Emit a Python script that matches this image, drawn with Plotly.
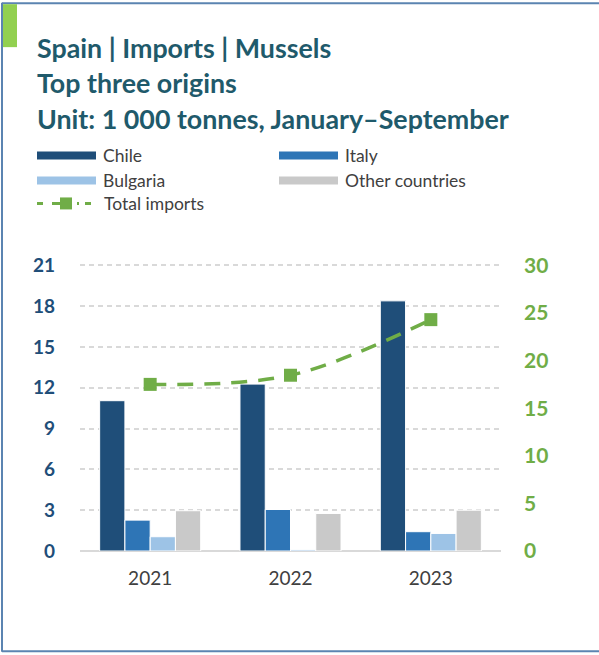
import plotly.graph_objects as go

years = ["2021", "2022", "2023"]
chile = [11.05, 12.27, 18.39]
italy = [2.27, 3.05, 1.42]
bulgaria = [1.05, 0.1, 1.29]
other = [2.96, 2.76, 3.0]
total = [17.5, 18.46, 24.3]

series_names = ["Chile", "Italy", "Bulgaria", "Other countries"]
series_values = [chile, italy, bulgaria, other]
series_colors = ["#1F4E79", "#2E75B6", "#9DC3E6", "#C9C9C9"]
line_color = "#70AD47"
title_color = "#1F5A6B"
text_color = "#404040"
FONT = "Lato"

# plot area in pixels (value 21 sits at y=265, 0 at y=551)
W, H = 599, 655
YMAX = 21.1
L, R, B = 80, 501, 551
T = B - (B - 265) * YMAX / 21


def px(x):
    return (x - L) / (R - L)


def py(y):
    return (B - y) / (B - T)


fig = go.Figure()
for name, vals, col in zip(series_names, series_values, series_colors):
    fig.add_trace(go.Bar(x=years, y=vals, name=name, marker=dict(color=col, line=dict(color="white", width=1)),
                         showlegend=False))

fig.add_trace(go.Scatter(x=years, y=total, name="Total imports", yaxis="y2", mode="lines+markers",
                         line=dict(color=line_color, width=3.5, dash="16px,11px", shape="spline", smoothing=1),
                         marker=dict(symbol="square", size=13, color=line_color),
                         showlegend=False))

shapes = []
annotations = []

# frame
border = "#5B84B1"
shapes.append(dict(type="line", xref="paper", yref="paper", x0=px(2), x1=px(2), y0=py(2), y1=py(652),
                   line=dict(color=border, width=2)))
shapes.append(dict(type="line", xref="paper", yref="paper", x0=px(2), x1=px(599), y0=py(2.5), y1=py(2.5),
                   line=dict(color=border, width=2)))
shapes.append(dict(type="line", xref="paper", yref="paper", x0=px(2), x1=px(599), y0=py(651.5), y1=py(651.5),
                   line=dict(color=border, width=2)))
# green accent
shapes.append(dict(type="rect", xref="paper", yref="paper", x0=px(3), x1=px(17), y0=py(3.5), y1=py(46.5),
                   fillcolor="#92D050", line=dict(width=0)))

# title lines
titles = ["Spain | Imports | Mussels", "Top three origins", "Unit: 1 000 tonnes, January\u2013September"]
title_y = [47, 82, 118]
for t, yy in zip(titles, title_y):
    annotations.append(dict(text="<b>" + t + "</b>", xref="paper", yref="paper", x=px(35), y=py(yy),
                            xanchor="left", yanchor="middle", showarrow=False,
                            font=dict(family=FONT, size=26.8, color=title_color)))

# legend
leg = [("Chile", series_colors[0], 37, 155), ("Italy", series_colors[1], 279, 155),
       ("Bulgaria", series_colors[2], 37, 180), ("Other countries", series_colors[3], 279, 180)]
for name, col, x0, yc in leg:
    shapes.append(dict(type="rect", xref="paper", yref="paper", x0=px(x0), x1=px(x0 + 59),
                       y0=py(yc - 4), y1=py(yc + 4), fillcolor=col, line=dict(width=0)))
    annotations.append(dict(text=name, xref="paper", yref="paper", x=px(x0 + 64), y=py(yc),
                            xanchor="left", yanchor="middle", showarrow=False,
                            font=dict(family=FONT, size=17.5, color=text_color)))
yc = 203
shapes.append(dict(type="line", xref="paper", yref="paper", x0=px(37), x1=px(96), y0=py(yc), y1=py(yc),
                   line=dict(color=line_color, width=3, dash="6px,9px,16px,9px,2px,6px")))
shapes.append(dict(type="rect", xref="paper", yref="paper", x0=px(60), x1=px(72), y0=py(yc - 6), y1=py(yc + 6),
                   fillcolor=line_color, line=dict(width=0)))
annotations.append(dict(text="Total imports", xref="paper", yref="paper", x=px(102), y=py(yc),
                        xanchor="left", yanchor="middle", showarrow=False,
                        font=dict(family=FONT, size=17.5, color=text_color)))

fig.update_layout(
    width=W, height=H,
    margin=dict(l=L, r=W - R, t=T, b=H - B, autoexpand=False),
    paper_bgcolor="white", plot_bgcolor="white",
    barmode="group", bargap=0.28, bargroupgap=0.0,
    showlegend=False,
    font=dict(family=FONT, color=text_color),
    xaxis=dict(type="category", showgrid=False, showline=False, ticks="",
               tickfont=dict(family=FONT, size=19, color=text_color), ticklabelstandoff=14),
    yaxis=dict(range=[0, YMAX], tick0=0, dtick=3, showgrid=True, gridcolor="#D9D9D9", gridwidth=1.5,
               griddash="5px,4px", zeroline=True, zerolinecolor="#D9D9D9", zerolinewidth=2,
               showline=False, ticks="", ticklabelstandoff=24,
               tickfont=dict(family=FONT, size=19, color="#1F4E79", weight="bold")),
    yaxis2=dict(range=[0, 30 * YMAX / 21], tick0=0, dtick=5, overlaying="y", side="right", showgrid=False,
                zeroline=False, showline=False, ticks="", ticklabelstandoff=22,
                tickfont=dict(family=FONT, size=21, color=line_color, weight="bold")),
    shapes=shapes,
    annotations=annotations,
)

fig.write_html("out.html", config={"displayModeBar": False},
               post_script="document.body.style.margin='0';")
